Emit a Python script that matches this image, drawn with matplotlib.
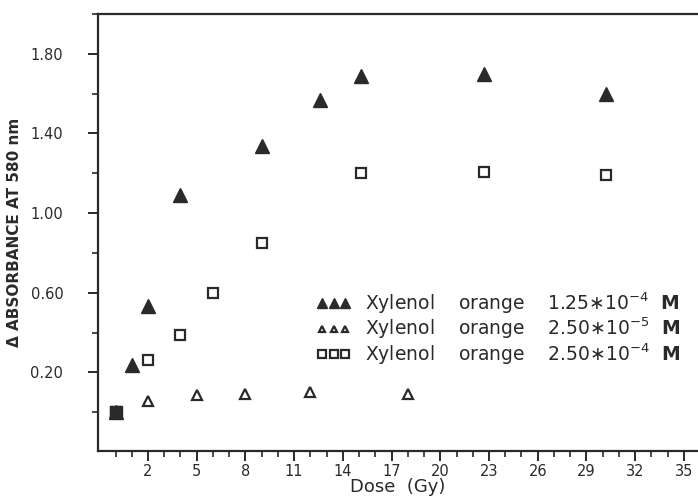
import matplotlib
matplotlib.use("Agg")
import matplotlib.pyplot as plt
import numpy as np

# Data
dose_hi = [0, 1.0, 2.0, 4.0, 9.0, 12.6, 15.1, 22.7, 30.2]
abs_hi = [0.00, 0.235, 0.535, 1.09, 1.335, 1.57, 1.69, 1.70, 1.60]

dose_lo = [0, 2.0, 5.0, 8.0, 12.0, 18.0]
abs_lo = [0.00, 0.055, 0.085, 0.09, 0.10, 0.09]

dose_sq = [0, 2.0, 4.0, 6.0, 9.0, 15.1, 22.7, 30.2]
abs_sq = [0.00, 0.26, 0.39, 0.60, 0.85, 1.20, 1.205, 1.19]

labels = [r"Xylenol    orange    1.25$\ast$10$^{-4}$  $\mathbf{M}$",
          r"Xylenol    orange    2.50$\ast$10$^{-5}$  $\mathbf{M}$",
          r"Xylenol    orange    2.50$\ast$10$^{-4}$  $\mathbf{M}$"]

xticks_major = [2, 5, 8, 11, 14, 17, 20, 23, 26, 29, 32, 35]
yticks_major = [0.20, 0.60, 1.00, 1.40, 1.80]

col = "#2a2a2a"
fig = plt.figure(figsize=(6.98, 4.99), dpi=100)
ax = fig.add_axes([98/698, 48/499, 600/698, 437/499])

ax.plot(dose_hi, abs_hi, linestyle="none", marker="^", ms=9.5, color=col,
        mec=col, label=labels[0])
ax.plot(dose_lo, abs_lo, linestyle="none", marker="^", ms=6.5, mfc="white",
        mec=col, mew=1.6, label=labels[1])
ax.plot(dose_sq, abs_sq, linestyle="none", marker="s", ms=7, mfc="white",
        mec=col, mew=1.6, label=labels[2])
# filled blob at origin
ax.plot([0], [0], linestyle="none", marker="s", ms=9, color=col)

ax.set_xlim(-1.08, 35.87)
ax.set_ylim(-0.195, 1.99)

ax.set_xticks(xticks_major)
ax.set_xticklabels([str(v) for v in xticks_major])
ax.set_xticks(np.arange(0, 36, 1), minor=True)
ax.set_yticks(yticks_major)
ax.set_yticklabels([f"{v:.2f}" for v in yticks_major])
ax.set_yticks(np.arange(0, 2.01, 0.4), minor=True)

ax.tick_params(axis="both", which="major", direction="out", length=7, width=1.4,
               color=col, labelsize=10.5, labelcolor=col)
ax.tick_params(axis="both", which="minor", direction="out", length=4, width=1.2,
               color=col)
ax.tick_params(axis="x", pad=2)
ax.tick_params(axis="y", pad=18)

for s in ["left", "bottom", "top"]:
    ax.spines[s].set_linewidth(1.6)
    ax.spines[s].set_color(col)
ax.spines["right"].set_visible(False)

ax.set_xlabel("Dose  (Gy)", fontsize=13, color=col, labelpad=0)
ax.set_ylabel("Δ ABSORBANCE AT 580 nm", fontsize=11, fontweight="bold",
              color=col, labelpad=6)

leg = ax.legend(loc="upper left", bbox_to_anchor=(0.352, 0.385), frameon=False,
                numpoints=3, handlelength=1.8, handletextpad=0.8,
                labelspacing=0.0, fontsize=13.5, markerscale=0.75,
                borderaxespad=0)
for t in leg.get_texts():
    t.set_color(col)

fig.savefig("out.png", dpi=100)
